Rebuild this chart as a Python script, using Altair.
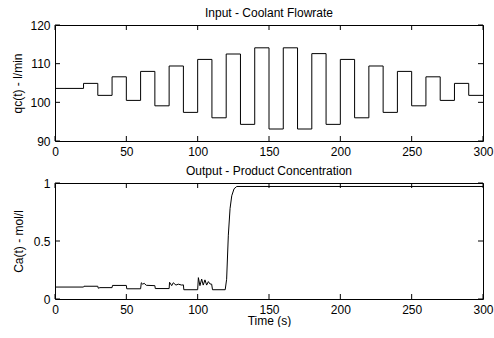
import altair as alt
import pandas as pd

# ---- data ----
t_in = [0, 20, 30, 40, 50, 60, 70, 80, 90, 100, 110, 120, 130, 140, 150, 160,
        170, 180, 190, 200, 210, 220, 230, 240, 250, 260, 270, 280, 290, 300]
q_in = [103.6, 104.9, 101.8, 106.6, 100.5, 108.0, 99.1, 109.4, 97.4, 111.1,
        96.0, 112.5, 94.3, 114.1, 93.1, 114.1, 93.1, 112.6, 94.3, 111.1,
        96.0, 109.4, 97.4, 108.0, 99.1, 106.6, 100.5, 104.9, 101.8, 101.8]

t_out = [0, 20, 20.3, 30, 30.3, 31.5, 40, 40.3, 50, 50.3, 60, 60.5, 61.5, 62.5,
         64, 70, 70.3, 80, 80.3, 81.8, 82.9, 84.8, 86.4, 88.8, 90, 90.3, 100,
         100.5, 101.6, 102.8, 103.9, 105.1, 106.3, 107.5, 108.6, 109.8, 110.4,
         119.3, 120.3, 121.5, 122.7, 123.9, 125.5, 127.4, 300]
c_out = [0.103, 0.103, 0.11, 0.11, 0.093, 0.098, 0.098, 0.117, 0.117, 0.088,
         0.088, 0.14, 0.128, 0.135, 0.118, 0.115, 0.09, 0.09, 0.144, 0.115,
         0.14, 0.12, 0.128, 0.12, 0.122, 0.08, 0.08, 0.184, 0.115, 0.172, 0.12,
         0.165, 0.12, 0.15, 0.13, 0.128, 0.08, 0.08, 0.17, 0.55, 0.78, 0.89,
         0.95, 0.97, 0.97]

x_ticks = [0, 50, 100, 150, 200, 250, 300]
q_ticks = [90, 100, 110, 120]
c_ticks = [0, 0.5, 1]

W, H, TL = 428, 116, 5
FONT = "Liberation Sans"

df_in = pd.DataFrame({"t": t_in, "v": q_in})
df_out = pd.DataFrame({"t": t_out, "v": c_out})
df_xt = pd.DataFrame({"t": x_ticks})


def panel(df, yticks, ydomain, ytitle, title, xtitle, title_pad, yfmt):
    xscale = alt.Scale(domain=[0, 300], nice=False, zero=False)
    yscale = alt.Scale(domain=ydomain, nice=False, zero=False)
    xaxis = alt.Axis(values=x_ticks, title=xtitle, format="d")
    yaxis = alt.Axis(values=yticks, title=ytitle, titlePadding=title_pad,
                     format=yfmt)
    df_yt = pd.DataFrame({"v": yticks})
    interp = "step-after" if xtitle is None else "linear"
    line = alt.Chart(df).mark_line(color="black", strokeWidth=1,
                                   interpolate=interp).encode(
        x=alt.X("t:Q", scale=xscale, axis=xaxis),
        y=alt.Y("v:Q", scale=yscale, axis=yaxis),
    )
    xb = alt.Chart(df_xt).mark_rule(color="black").encode(
        x=alt.X("t:Q", scale=xscale, axis=xaxis),
        y=alt.value(H), y2=alt.value(H - TL))
    xt = alt.Chart(df_xt).mark_rule(color="black").encode(
        x=alt.X("t:Q", scale=xscale, axis=xaxis),
        y=alt.value(0), y2=alt.value(TL))
    yl = alt.Chart(df_yt).mark_rule(color="black").encode(
        y=alt.Y("v:Q", scale=yscale, axis=yaxis),
        x=alt.value(0), x2=alt.value(TL))
    yr = alt.Chart(df_yt).mark_rule(color="black").encode(
        y=alt.Y("v:Q", scale=yscale, axis=yaxis),
        x=alt.value(W), x2=alt.value(W - TL))
    return alt.layer(line, xb, xt, yl, yr).properties(
        width=W, height=H, title=alt.TitleParams(title))


top = panel(df_in, q_ticks, [90, 120], "qc(t) - l/min",
            "Input - Coolant Flowrate", None, 5, "d")
bot = panel(df_out, c_ticks, [0, 1], "Ca(t) - mol/l",
            "Output - Product Concentration", "Time (s)", 8, "~g")

chart = alt.vconcat(top, bot, spacing=6).properties(
    padding={"left": 11, "top": 6, "right": 0, "bottom": 0}
).configure_view(
    stroke="black", strokeWidth=1
).configure_axis(
    grid=False, domain=False, ticks=False, tickSize=0,
    labelFont=FONT, labelFontSize=12, labelColor="black", labelPadding=5,
    labelFlush=False, labelOverlap=False,
    titleFont=FONT, titleFontSize=12, titleFontWeight="normal",
    titleColor="black",
).configure_axisX(titlePadding=0).configure_title(
    font=FONT, fontSize=12, fontWeight="normal", color="black", offset=-1
)

chart.save("out.html", embed_options={"renderer": "svg", "actions": False})
